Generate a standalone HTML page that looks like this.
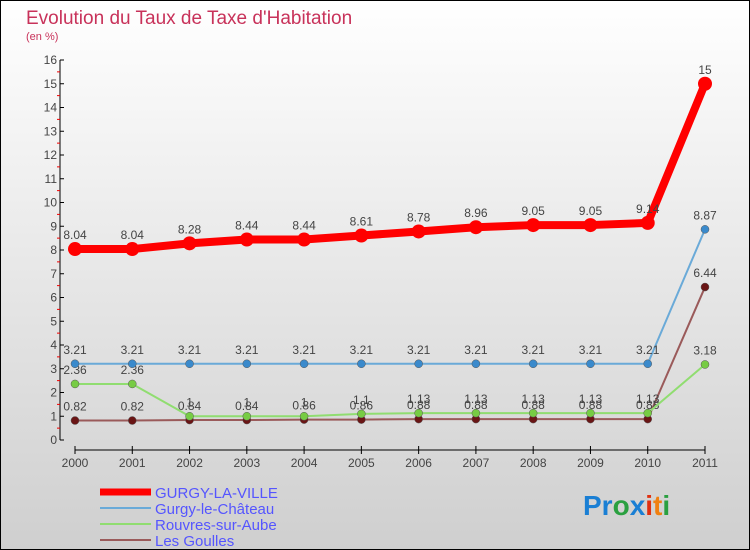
<!DOCTYPE html>
<html><head><meta charset="utf-8"><style>
body{margin:0;width:750px;height:550px;overflow:hidden}
svg{display:block;font-family:"Liberation Sans",sans-serif}
</style></head><body>
<svg id="c" width="750" height="550" viewBox="0 0 750 550">
<defs><linearGradient id="bg" x1="0" y1="0" x2="0" y2="1"><stop offset="0" stop-color="#ffffff"/><stop offset="1" stop-color="#cfcfcf"/></linearGradient></defs>
<rect x="0.5" y="0.5" width="749" height="549" fill="url(#bg)" stroke="#000"/>
<text x="26" y="24" font-size="19" fill="#c8325a">Evolution du Taux de Taxe d'Habitation</text>
<text x="26" y="40" font-size="11" fill="#c8325a">(en %)</text>
<g id="axes"></g>
<g id="series"></g>
<g id="legend"></g>
<text x="583" y="515" font-size="28" font-weight="bold"><tspan fill="#1a7fd4">Pr</tspan><tspan fill="#2aa040">o</tspan><tspan fill="#1a7fd4">x</tspan><tspan fill="#e03010">i</tspan><tspan fill="#f08010">t</tspan><tspan fill="#2aa040">i</tspan></text>
</svg>
<script>
const years=["2000","2001","2002","2003","2004","2005","2006","2007","2008","2009","2010","2011"];
const yTicks=[0,1,2,3,4,5,6,7,8,9,10,11,12,13,14,15,16];
const seriesNames=["GURGY-LA-VILLE","Gurgy-le-Château","Rouvres-sur-Aube","Les Goulles"];
const gurgyVille=[8.04,8.04,8.28,8.44,8.44,8.61,8.78,8.96,9.05,9.05,9.14,15];
const gurgyChateau=[3.21,3.21,3.21,3.21,3.21,3.21,3.21,3.21,3.21,3.21,3.21,8.87];
const rouvres=[2.36,2.36,1,1,1,1.1,1.13,1.13,1.13,1.13,1.13,3.18];
const goulles=[0.82,0.82,0.84,0.84,0.86,0.86,0.88,0.88,0.88,0.88,0.88,6.44];
const NS="http://www.w3.org/2000/svg";
const X=i=>75+i*(630/11);
const Y=v=>440-v*23.75;
function mk(tag,attrs,parent,txt){const e=document.createElementNS(NS,tag);for(const k in attrs)e.setAttribute(k,attrs[k]);if(txt!=null)e.textContent=txt;parent.appendChild(e);return e;}
const ax=document.getElementById('axes');
let e=mk('line',{x1:60,y1:Y(16),x2:60,y2:Y(0),stroke:'#000'},ax);


yTicks.forEach(t=>{
  mk('line',{x1:60,y1:Y(t),x2:64,y2:Y(t),stroke:'#000'},ax);
  if(t<16)mk('line',{x1:57,y1:Y(t+0.5),x2:60,y2:Y(t+0.5),stroke:'#e00'},ax);
  e=mk('text',{x:57,y:Y(t)+4,'font-size':12,fill:'#444','text-anchor':'end'},ax,t);
  
  
});
e=mk('line',{x1:75,y1:450,x2:705,y2:450,stroke:'#000'},ax);


years.forEach((y,i)=>{
  mk('line',{x1:X(i),y1:446,x2:X(i),y2:454,stroke:'#000'},ax);
  e=mk('text',{x:X(i),y:467,'font-size':12,fill:'#444','text-anchor':'middle'},ax,y);
  
  
});
const sg=document.getElementById('series');
const defs=[[goulles,'#9a5a5a','#6a1515',2,4],[rouvres,'#90dd70','#77cc44',2,4],[gurgyChateau,'#6aaad8','#3a8acc',2,4],[gurgyVille,'#ff0000','#ff0000',8,7]];
const names=['les-goulles','rouvres-sur-aube','gurgy-le-chateau','gurgy-la-ville'];
defs.forEach((d,si)=>{
  const g=mk('g',{},sg);
  
  
  const p=mk('polyline',{points:d[0].map((v,i)=>X(i)+','+Y(v)).join(' '),fill:'none',stroke:d[1],'stroke-width':d[3],'stroke-linejoin':'round'},g);
  
  
  d[0].forEach((v,i)=>{
    const c=mk('circle',{cx:X(i),cy:Y(v),r:d[4],fill:d[2],stroke:si==3?'none':'#555','stroke-width':0.5},g);
    
    
    const t=mk('text',{x:X(i),y:Y(v)-10,'font-size':12,fill:'#444','text-anchor':'middle'},g,v);
    
    
  });
});
const lg=document.getElementById('legend');
const lc=['#ff0000','#6aaad8','#90dd70','#9a5a5a'],lw=[7,2,2,2];
seriesNames.forEach((n,i)=>{
  const y=492+i*16;
  const g=mk('g',{},lg);
  
  
  mk('line',{x1:100,y1:y,x2:151,y2:y,stroke:lc[i],'stroke-width':lw[i]},g);
  mk('text',{x:155,y:y+6,'font-size':15,fill:'#5555ff'},g,n);
});
</script>
</body></html>
